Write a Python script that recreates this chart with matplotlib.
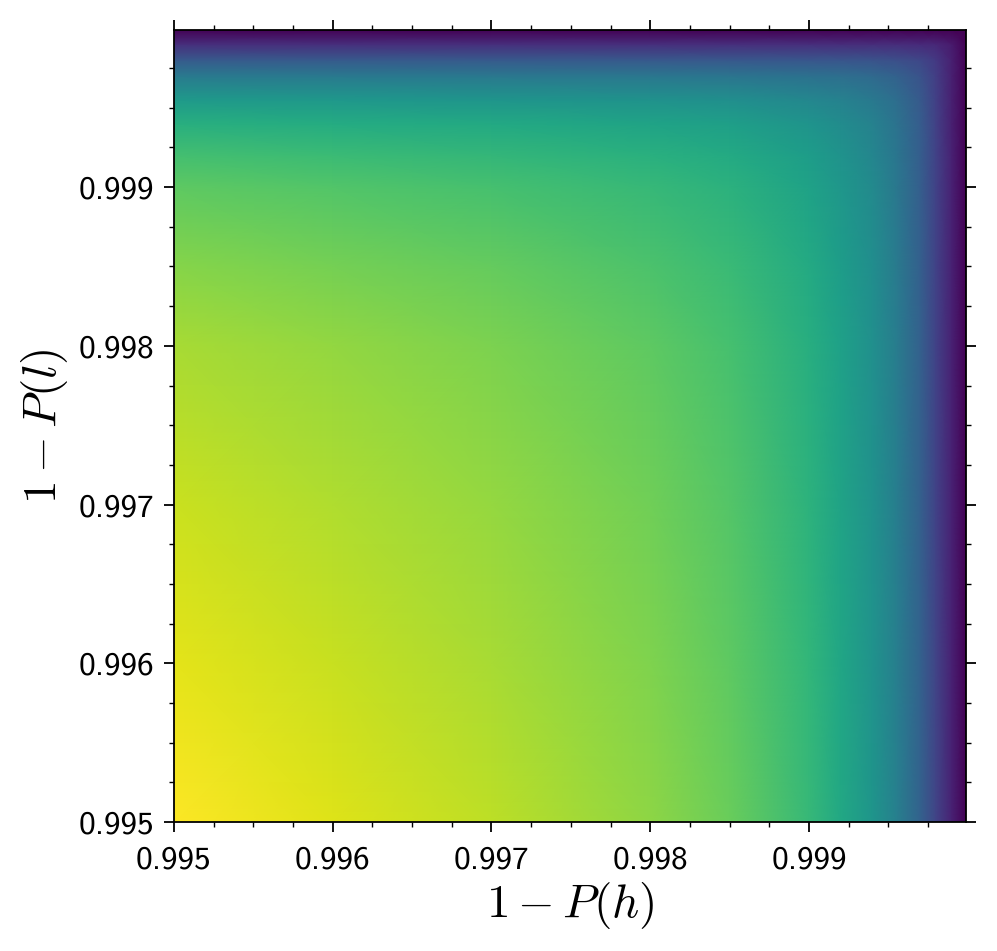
import matplotlib
matplotlib.use("Agg")
import matplotlib.pyplot as plt
import numpy as np
from matplotlib.ticker import MultipleLocator, FormatStrFormatter

plt.rcParams['mathtext.fontset'] = 'cm'

# grid nodes for 1-P(h) (x) and 1-P(l) (y)
x_nodes = [0.995, 0.996, 0.997, 0.998, 0.9985, 0.999, 0.9992, 0.9994,
           0.99955, 0.9997, 0.9998, 0.9999, 0.99999]
y_nodes = [0.995, 0.996, 0.997, 0.998, 0.9985, 0.999, 0.9992, 0.9994,
           0.99955, 0.9997, 0.9998, 0.9999, 0.99999]

# values read from the colour field (rows: y, columns: x), scale 0..1
z_values = [
    [1.000, 0.950, 0.900, 0.830, 0.770, 0.670, 0.600, 0.520, 0.430, 0.310, 0.200, 0.090, 0.0],
    [0.960, 0.916, 0.871, 0.807, 0.751, 0.658, 0.591, 0.514, 0.427, 0.309, 0.200, 0.090, 0.0],
    [0.920, 0.881, 0.840, 0.783, 0.732, 0.644, 0.581, 0.508, 0.423, 0.307, 0.199, 0.090, 0.0],
    [0.870, 0.837, 0.802, 0.751, 0.706, 0.626, 0.568, 0.499, 0.418, 0.305, 0.199, 0.090, 0.0],
    [0.820, 0.792, 0.762, 0.718, 0.678, 0.607, 0.553, 0.489, 0.412, 0.303, 0.198, 0.090, 0.0],
    [0.750, 0.728, 0.705, 0.670, 0.637, 0.577, 0.530, 0.473, 0.402, 0.299, 0.197, 0.090, 0.0],
    [0.700, 0.682, 0.663, 0.633, 0.606, 0.553, 0.512, 0.459, 0.394, 0.296, 0.196, 0.090, 0.0],
    [0.630, 0.617, 0.603, 0.580, 0.559, 0.517, 0.482, 0.438, 0.380, 0.290, 0.194, 0.089, 0.0],
    [0.540, 0.532, 0.522, 0.508, 0.493, 0.463, 0.438, 0.404, 0.357, 0.279, 0.191, 0.089, 0.0],
    [0.410, 0.406, 0.402, 0.395, 0.388, 0.373, 0.360, 0.340, 0.311, 0.255, 0.183, 0.088, 0.0],
    [0.280, 0.279, 0.278, 0.275, 0.273, 0.267, 0.262, 0.254, 0.241, 0.212, 0.165, 0.086, 0.0],
    [0.130, 0.130, 0.130, 0.130, 0.129, 0.129, 0.128, 0.127, 0.125, 0.121, 0.110, 0.074, 0.0],
    [0.000, 0.000, 0.000, 0.000, 0.000, 0.000, 0.000, 0.000, 0.000, 0.000, 0.000, 0.000, 0.0],
]

fig = plt.figure(figsize=(9.97, 9.51), dpi=100)
ax = fig.add_axes([0.1745, 0.1356, 0.7945, 0.8329])

X, Y = np.meshgrid(x_nodes, y_nodes)
ax.pcolormesh(X, Y, np.array(z_values), shading='gouraud', cmap='viridis', vmin=0, vmax=1)

ax.set_xlim(0.995, 0.99999)
ax.set_ylim(0.995, 0.99999)

for a in (ax.xaxis, ax.yaxis):
    a.set_major_locator(MultipleLocator(0.001))
    a.set_minor_locator(MultipleLocator(0.00025))
    a.set_major_formatter(FormatStrFormatter('%.3f'))

ax.tick_params(which='both', direction='out', top=True, right=True)
ax.tick_params(which='major', length=7, width=1.3)
ax.tick_params(axis='x', which='major', pad=10)
ax.tick_params(axis='y', which='major', pad=7)
ax.tick_params(which='minor', length=3.5, width=1.0)
for lab in ax.get_xticklabels() + ax.get_yticklabels():
    lab.set_fontfamily('cmss10')
    lab.set_fontsize(24)
for s in ax.spines.values():
    s.set_linewidth(1.3)

ax.set_xlabel(r'$1-P(h)$', fontsize=34, labelpad=4)
ax.set_ylabel(r'$1-P(l)$', fontsize=34, labelpad=6)

fig.savefig('out.png', dpi=100)
